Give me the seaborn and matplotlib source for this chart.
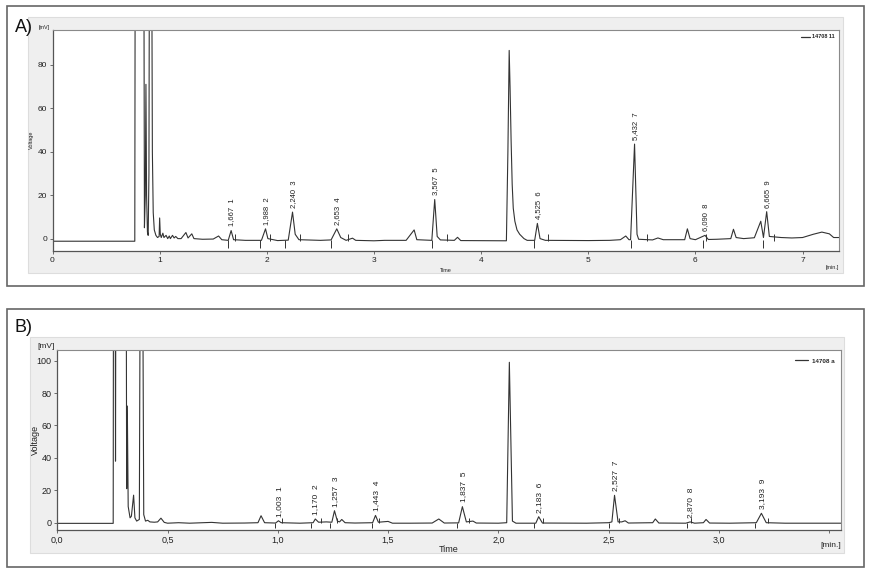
import matplotlib
matplotlib.use("Agg")
import matplotlib.pyplot as plt
import matplotlib.patches as patches
from matplotlib.ticker import FixedLocator, FuncFormatter
import pandas as pd
import seaborn as sns

sns.set_theme(style="white")
plt.rcParams['font.family'] = ['Liberation Sans', 'DejaVu Sans']

# ---- chromatogram A ----
a_time = [0.0, 0.768, 0.772, 0.852, 0.858, 0.866, 0.872, 0.878, 0.886, 0.893, 0.9, 0.905,
          0.925, 0.932, 0.94, 0.95, 0.965, 0.98, 0.995, 1.0, 1.006, 1.015, 1.03, 1.04,
          1.06, 1.075, 1.09, 1.1, 1.12, 1.135, 1.15, 1.17, 1.2, 1.245, 1.265, 1.3, 1.32,
          1.4, 1.5, 1.55, 1.58, 1.64, 1.667, 1.69, 1.8, 1.95, 1.988, 2.01, 2.1, 2.2, 2.24,
          2.265, 2.3, 2.5, 2.6, 2.653, 2.69, 2.74, 2.8, 2.83, 3.0, 3.1, 3.3, 3.375, 3.4,
          3.54, 3.567, 3.59, 3.62, 3.75, 3.78, 3.81, 4.236, 4.25, 4.262, 4.27, 4.28, 4.29,
          4.3, 4.315, 4.335, 4.36, 4.4, 4.43, 4.5, 4.525, 4.55, 4.6, 5.0, 5.2, 5.3, 5.35,
          5.38, 5.395, 5.432, 5.455, 5.47, 5.6, 5.65, 5.7, 5.9, 5.925, 5.95, 6.0, 6.09,
          6.12, 6.2, 6.33, 6.355, 6.38, 6.45, 6.55, 6.61, 6.635, 6.665, 6.69, 6.8, 6.9,
          7.0, 7.1, 7.18, 7.25, 7.29, 7.34]
a_volt = [-1.2, -1.2, 150, 150, 5, 20, 71, 20, 3, 1.5, 30, 150,
          150, 40, 12, 4, 1.5, 0.5, 1, 9.5, 2, 0.5, 2.5, 0.5,
          1.5, 0, 1.2, 0, 1.5, 0.3, 1, 0, 0, 2.8, 0.3, 2.2, 0,
          -0.3, -0.2, 1.2, -0.5, -0.8, 3.7, -0.5, -0.8, -0.8, 4.5, 0, -0.9, -0.7, 12.2,
          2, -0.5, -0.8, -0.6, 4.5, 0.5, -0.8, 0.2, -0.8, -1, -0.8, -0.8, 4, -0.5,
          -0.8, 18, 1, -0.6, -0.8, 0.6, -0.9, -1, 40, 86.6, 70, 45, 25,
          14, 8, 4, 2, 0, -0.8, -0.8, 7, 0, -0.8, -0.9, -0.8, -0.5, 1.2,
          -0.5, -0.5, 43.5, 2, -0.3, -0.6, 0.3, -0.5, -0.5, 4.5, 0, -0.5, 1.5,
          -0.4, -0.3, 0, 4.3, 0.5, 0, 0.4, 8, 0.5, 12.4, 1, 0.5, 0.3,
          0.5, 2, 3, 2.2, 0.5, 0.5]
a_peak_rt = [1.667, 1.988, 2.240, 2.653, 3.567, 4.525, 5.432, 6.090, 6.665]
a_peak_h = [3.7, 4.5, 12.2, 4.5, 18, 7, 43.5, 1.5, 12.4]
a_peak_lbl = ["1,667", "1,988", "2,240", "2,653", "3,567", "4,525", "5,432", "6,090", "6,665"]
a_start = [1.64, 1.94, 2.17, 2.60, 3.54, 4.495, 5.397, 6.071, 6.63]
a_end = [1.70, 2.03, 2.31, 2.76, 3.68, 4.625, 5.549, 6.095, 6.733]

# ---- chromatogram B ----
b_time = [0.0, 0.2535, 0.255, 0.262, 0.264, 0.266, 0.312, 0.3145, 0.3175, 0.3215, 0.33,
          0.336, 0.346, 0.352, 0.36, 0.372, 0.377, 0.386, 0.392, 0.4, 0.41, 0.42, 0.44,
          0.455, 0.47, 0.485, 0.5, 0.55, 0.6, 0.7, 0.75, 0.85, 0.91, 0.924, 0.94, 0.99,
          1.003, 1.015, 1.1, 1.16, 1.17, 1.185, 1.22, 1.245, 1.257, 1.27, 1.28, 1.29,
          1.305, 1.35, 1.43, 1.443, 1.456, 1.5, 1.52, 1.6, 1.7, 1.73, 1.755, 1.82,
          1.837, 1.855, 1.885, 1.9, 2.0, 2.038, 2.05, 2.064, 2.08, 2.17, 2.183, 2.2,
          2.4, 2.5, 2.515, 2.527, 2.543, 2.56, 2.575, 2.59, 2.7, 2.712, 2.728, 2.85,
          2.87, 2.89, 2.93, 2.942, 2.958, 3.05, 3.17, 3.193, 3.215, 3.3, 3.554]
b_volt = [-0.4, -0.4, 200, 200, 38, 200, 200, 21, 72, 10, 3,
          4, 17, 3, 1, 2, 200, 200, 5, 1, 1.5, 0.5, 0.3,
          0.5, 2.8, 0.2, -0.3, 0, -0.3, 0.2, -0.3, -0.2, 0, 4.3, 0, -0.2,
          1.2, 0, -0.3, 0, 2.3, 0.3, 0.5, 0.3, 7.4, 1, 0.5, 2,
          0, -0.2, 0, 4.5, 0.3, 0.8, -0.3, -0.3, -0.2, 2.3, -0.2, -0.1,
          9.9, 0.5, 1, -0.2, -0.3, 0, 99, 1, -0.3, -0.3, 3.7, -0.2,
          -0.3, 0, 0.5, 16.9, 0.5, 0.5, 1.2, -0.2, 0, 2.3, -0.2, -0.3,
          0.5, -0.3, 0, 2, -0.2, -0.3, 0, 5.8, 0, -0.3, -0.3]
b_peak_rt = [1.003, 1.170, 1.257, 1.443, 1.837, 2.183, 2.527, 2.870, 3.193]
b_peak_h = [1.2, 2.3, 7.4, 4.5, 9.9, 3.7, 16.9, 0.5, 5.8]
b_peak_lbl = ["1,003", "1,170", "1,257", "1,443", "1,837", "2,183", "2,527", "2,870", "3,193"]
b_start = [0.987, 1.149, 1.237, 1.426, 1.814, 2.162, 2.502, 2.854, 3.164]
b_end = [1.018, 1.194, 1.27, 1.46, 1.868, 2.204, 2.549, 2.874, 3.222]

W, H = 873, 574
fig = plt.figure(figsize=(W / 100, H / 100), dpi=100)
fig.patch.set_facecolor("white")


def px_rect(x0, y0, x1, y1):
    return [x0 / W, 1 - y1 / H, (x1 - x0) / W, (y1 - y0) / H]


def frame(x0, y0, x1, y1, fc, ec, lw):
    r = px_rect(x0, y0, x1, y1)
    fig.add_artist(patches.Rectangle((r[0], r[1]), r[2], r[3], transform=fig.transFigure,
                                     facecolor=fc, edgecolor=ec, linewidth=lw, zorder=0))


LINE = "#333333"


def chromatogram(ax, t, v, rt, h, lbl, starts, ends, base, legend, fs_tick, fs_lbl, fs_small):
    df = pd.DataFrame({"Time": t, "Voltage": v})
    sns.lineplot(data=df, x="Time", y="Voltage", ax=ax, color=LINE, linewidth=0.8,
                 sort=False, estimator=None, label=legend)
    ax.vlines(starts, base - 3.2, base + 0.3, color=LINE, linewidth=0.7)
    ax.vlines(ends, base, base + 3.0, color=LINE, linewidth=0.7)
    for i, (x, y, s) in enumerate(zip(rt, h, lbl)):
        ax.annotate(f"{s}  {i + 1}", xy=(x, y), xytext=(0.5, 3), textcoords="offset points",
                    rotation=90, ha="center", va="bottom", fontsize=fs_lbl, color="#222222")
    ax.set_facecolor("white")
    for side in ["top", "right"]:
        ax.spines[side].set_color("#8a8a8a")
        ax.spines[side].set_linewidth(0.8)
    for side in ["left", "bottom"]:
        ax.spines[side].set_color("#555555")
        ax.spines[side].set_linewidth(0.9)
    ax.tick_params(axis="both", which="both", direction="out", length=2.5, width=0.6,
                   color="#555555", labelsize=fs_tick, labelcolor="#222222", pad=1.5,
                   left=True, bottom=True)
    ax.set_xlabel("")
    ax.set_ylabel("")
    leg = ax.legend(loc="upper right", frameon=False, handlelength=1.6, handletextpad=0.4,
                    borderaxespad=0.4, prop={"weight": "bold", "size": fs_small})
    for line in leg.get_lines():
        line.set_linewidth(0.9)
    ax.text(-0.003, 1.0, "[mV]", transform=ax.transAxes, ha="right", va="bottom",
            fontsize=fs_small, color="#222222")
    ax.text(1.0, -0.065, "[min.]", transform=ax.transAxes, ha="right", va="top",
            fontsize=fs_small, color="#222222")


# ---------- panel A ----------
frame(7, 6, 864, 286, "white", "#666666", 1.2)
frame(28, 17, 843, 273, "#efefef", "#dddddd", 0.8)
axA = fig.add_axes(px_rect(52.5, 30, 839, 251))
chromatogram(axA, a_time, a_volt, a_peak_rt, a_peak_h, a_peak_lbl, a_start, a_end,
             -1.0, "14708 11", 6, 5.5, 4)
axA.set_xlim(0, 7.34)
axA.set_ylim(-5.7, 96)
axA.xaxis.set_major_locator(FixedLocator([0, 1, 2, 3, 4, 5, 6, 7]))
axA.yaxis.set_major_locator(FixedLocator([0, 20, 40, 60, 80]))
fig.text(446 / W, 1 - 270 / H, "Time", ha="center", va="center", fontsize=4, color="#222222")
fig.text(31.5 / W, 1 - 140 / H, "Voltage", ha="center", va="center", rotation=90,
         fontsize=4, color="#222222")
fig.text(15 / W, 1 - 27 / H, "A)", ha="left", va="center", fontsize=13, color="#111111")

# ---------- panel B ----------
frame(7, 309, 864, 567, "white", "#666666", 1.2)
frame(30, 337, 844, 553, "#efefef", "#dddddd", 0.8)
axB = fig.add_axes(px_rect(57.3, 350.3, 841, 530))
chromatogram(axB, b_time, b_volt, b_peak_rt, b_peak_h, b_peak_lbl, b_start, b_end,
             -0.3, "14708 a", 6.5, 6, 6)
axB.set_xlim(0, 3.554)
axB.set_ylim(-4.5, 106.4)
axB.xaxis.set_major_locator(FixedLocator([0, 0.5, 1.0, 1.5, 2.0, 2.5, 3.0, 3.5]))
axB.xaxis.set_major_formatter(FuncFormatter(
    lambda v, _: "" if v > 3.2 else f"{v:.1f}".replace(".", ",")))
axB.yaxis.set_major_locator(FixedLocator([0, 20, 40, 60, 80, 100]))
leg = axB.get_legend()
for t in leg.get_texts():
    t.set_fontsize(4.5)
fig.text(449 / W, 1 - 549 / H, "Time", ha="center", va="center", fontsize=6.5, color="#222222")
fig.text(35 / W, 1 - 440 / H, "Voltage", ha="center", va="center", rotation=90,
         fontsize=6.5, color="#222222")
fig.text(15 / W, 1 - 328 / H, "B)", ha="left", va="center", fontsize=13, color="#111111")

fig.savefig("out.png", dpi=100, facecolor="white")
